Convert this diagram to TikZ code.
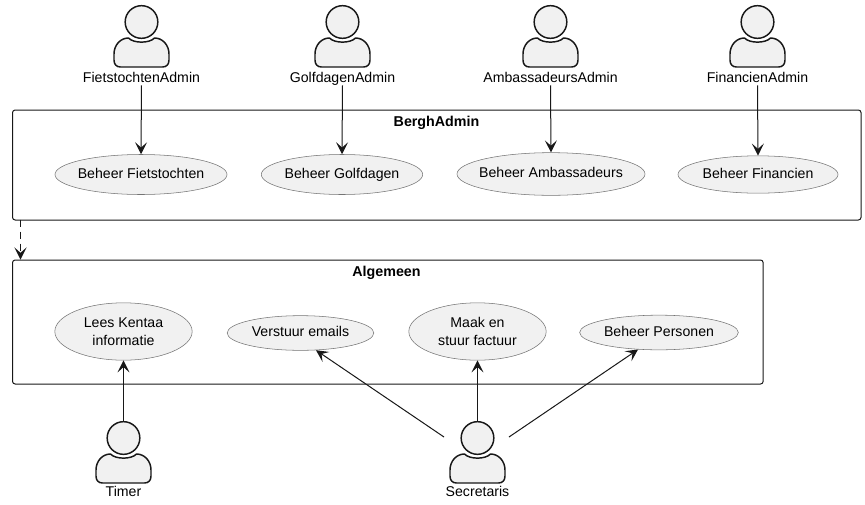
\documentclass[tikz,border=0pt]{standalone}
\usepackage{fontspec}
\setmainfont{Liberation Sans}
\usetikzlibrary{arrows.meta,shapes.geometric}
\definecolor{fillg}{HTML}{F1F1F1}
\definecolor{linek}{HTML}{181818}
\tikzset{
 x=0.75pt,y=-0.75pt,
 txt/.style={font=\fontsize{10.6pt}{13.4pt}\selectfont,text=black,inner sep=0pt,align=center},
 oneline/.style={text height=9pt,text depth=3.6pt},
 uc/.style={ellipse,draw=linek!60!white,fill=fillg,line width=0.4pt,txt,inner xsep=-10pt,inner ysep=-6pt,minimum width=#1},
 lbl/.style={txt,anchor=base,text depth=2.3pt},
 pack/.style={draw=linek,line width=0.75pt,rounded corners=2pt},
 ptitle/.style={font=\fontsize{10.7pt}{12pt}\selectfont\bfseries,inner sep=0pt,anchor=base},
 flow/.style={draw=linek,line width=0.75pt,-{Stealth[length=9pt,width=9pt,inset=4pt]}},
 flowd/.style={flow,dash pattern=on 5.5pt off 3.5pt},
 head/.style={circle,draw=linek,fill=fillg,line width=1.1pt,minimum size=24.5pt,inner sep=0pt},
 body/.style={draw=linek,fill=fillg,line width=1.1pt,line join=round},
}
\newcommand{\actorbody}[2]{%
 \draw[body] (#1-27.5,#2+60) -- (#1-27.5,#2+54)
   .. controls (#1-27.5,#2+45) and (#1-21,#2+38) .. (#1-13,#2+38)
   .. controls (#1-8,#2+43.5) and (#1+8,#2+43.5) .. (#1+13,#2+38)
   .. controls (#1+21,#2+38) and (#1+27.5,#2+45) .. (#1+27.5,#2+54)
   -- (#1+27.5,#2+60)
   .. controls (#1+27.5,#2+64.5) and (#1+25,#2+67) .. (#1+21,#2+67)
   -- (#1-21,#2+67)
   .. controls (#1-25,#2+67) and (#1-27.5,#2+64.5) .. (#1-27.5,#2+60) -- cycle;}
\begin{document}
\begin{tikzpicture}
\useasboundingbox (0,0) rectangle (865,504);
\fill[white] (0,0) rectangle (865,504);
% packages
\node[pack,minimum width=636.4pt,minimum height=82.5pt,anchor=north west,inner sep=0pt] (bergh) at (12,109.5) {};
\node[pack,minimum width=563pt,minimum height=93pt,anchor=north west,inner sep=0pt] (alg) at (12,259.5) {};
\node[ptitle] (tb) at (436.5,126) {BerghAdmin};
\node[ptitle] (ta) at (386.5,276) {Algemeen};
% actors
\actorbody{141.5}{0}
\node[head] (h1) at (141.5,22) {};
\node[lbl] (fa) at (141.5,82) {FietstochtenAdmin};
\actorbody{342.5}{0}
\node[head] (h2) at (342.5,22) {};
\node[lbl] (ga) at (342.5,82) {GolfdagenAdmin};
\actorbody{550.5}{0}
\node[head] (h3) at (550.5,22) {};
\node[lbl] (aa) at (550.5,82) {AmbassadeursAdmin};
\actorbody{757.5}{0}
\node[head] (h4) at (757.5,22) {};
\node[lbl] (fi) at (757.5,82) {FinancienAdmin};
\actorbody{123.5}{416}
\node[head] (h5) at (123.5,438) {};
\node[lbl] (ti) at (123.5,496) {Timer};
\actorbody{477.5}{416}
\node[head] (h6) at (477.5,438) {};
\node[lbl] (se) at (477.5,496) {Secretaris};
% use cases
\node[uc=129pt,minimum height=30pt,oneline] (u1) at (141,174.5) {Beheer Fietstochten};
\node[uc=121pt,minimum height=30pt,oneline] (u2) at (342,174.5) {Beheer Golfdagen};
\node[uc=141pt,minimum height=32pt,oneline] (u3) at (551,174) {Beheer Ambassadeurs};
\node[uc=120pt,minimum height=28pt,oneline] (u4) at (758,174.5) {Beheer Financien};
\node[uc=103pt,minimum height=43pt] (u5) at (123.5,331.5) {Lees Kentaa\\informatie};
\node[uc=110pt,minimum height=26pt,oneline] (u6) at (300.5,333) {Verstuur emails};
\node[uc=103pt,minimum height=43pt] (u7) at (477.5,331.5) {Maak en\\stuur factuur};
\node[uc=119pt,minimum height=26pt,oneline] (u8) at (659,332.5) {Beheer Personen};
% connectors
\draw[flow] (fa.south) -- (u1.north);
\draw[flow] (ga.south) -- (u2.north);
\draw[flow] (aa.south) -- (u3.north);
\draw[flow] (fi.south) -- (u4.north);
\coordinate (bs) at (20.5,219.5);
\coordinate (as) at (20.5,259.5);
\draw[flowd] (bs) -- (as);
\draw[flow] (h5.north) -- (u5.south);
\draw[flow] (h6.north) -- (u7.south);
\coordinate (sl) at (444,437);
\coordinate (sr) at (509,437);
\draw[flow] (sl) -- (u6.-48);
\draw[flow] (sr) -- (u8.-141);
\end{tikzpicture}
\end{document}
